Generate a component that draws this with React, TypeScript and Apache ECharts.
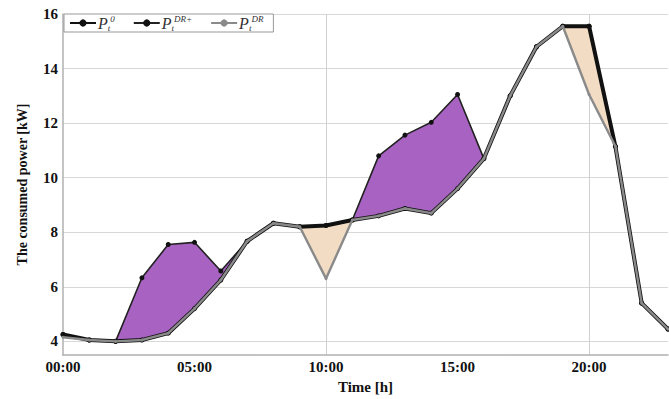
import React, { useEffect, useRef } from "react";
import * as echarts from "echarts";

const hours = Array.from({ length: 24 }, (_, i) => String(i));
const xTickLabels = ["00:00", "05:00", "10:00", "15:00", "20:00"];
// P_t^0 (thick black)
const p0 = [4.25, 4.05, 4.0, 4.05, 4.3, 5.2, 6.25, 7.67, 8.33, 8.2, 8.25, 8.45, 8.6, 8.87, 8.7, 9.6, 10.7, 13.0, 14.8, 15.55, 15.55, 11.15, 5.4, 4.45];
// P_t^{DR+} (thin black with dots)
const pDRplus = [4.25, 4.05, 4.0, 6.33, 7.55, 7.63, 6.58, 7.67, 8.33, 8.2, 8.25, 8.45, 10.8, 11.56, 12.03, 13.05, 10.7, 13.0, 14.8, 15.55, 15.55, 11.15, 5.4, 4.45];
// P_t^{DR} (gray)
const pDR = [4.15, 4.05, 4.0, 4.05, 4.3, 5.2, 6.25, 7.67, 8.33, 8.2, 6.3, 8.45, 8.6, 8.87, 8.7, 9.6, 10.7, 13.0, 14.8, 15.55, 13.05, 11.15, 5.4, 4.45];

const purpleDiff = pDRplus.map((v, i) => Math.max(v - p0[i], 0));
const beigeDiff = p0.map((v, i) => Math.max(v - pDR[i], 0));

const SERIF = "'Liberation Serif', 'DejaVu Serif', serif";

export default function App() {
  const ref = useRef<HTMLDivElement>(null);
  useEffect(() => {
    document.body.style.margin = "0";
    const chart = echarts.init(ref.current!, null, { renderer: "svg" });
    const gridColors: string[] = ["rgba(0,0,0,0)", "#d8d8d8", "rgba(0,0,0,0)", "rgba(0,0,0,0)"];
    const legendRich = {
      i: { fontFamily: SERIF, fontStyle: "italic", fontSize: 16, color: "#333", lineHeight: 18 },
      sub: { fontFamily: SERIF, fontStyle: "italic", fontSize: 9, color: "#333", verticalAlign: "bottom", lineHeight: 18 },
      sup: { fontFamily: SERIF, fontStyle: "italic", fontSize: 9, color: "#333", verticalAlign: "top", lineHeight: 18 },
    };
    const legendNames: Record<string, string> = {
      P0: "{i|P}{sub|t}{sup|0}",
      DRplus: "{i|P}{sub|t}{sup|DR+}",
      DR: "{i|P}{sub|t}{sup|DR}",
    };
    chart.setOption({
      animation: false,
      grid: { left: 63, top: 14, right: 1, bottom: 41 },
      legend: {
        left: 64,
        top: 14,
        data: ["P0", "DRplus", "DR"],
        backgroundColor: "#fff",
        borderColor: "#999",
        borderWidth: 1,
        padding: [0, 10, 0, 5],
        itemGap: 18,
        itemWidth: 26,
        itemHeight: 9,
        formatter: (n: string) => legendNames[n],
        textStyle: { rich: legendRich, padding: [0, 0, 0, -3] },
      },
      xAxis: {
        type: "category",
        data: hours,
        boundaryGap: false,
        axisLine: { lineStyle: { color: "#b0b0b0", width: 1.5 } },
        axisTick: { show: false },
        axisLabel: {
          interval: 4,
          margin: 4,
          fontFamily: SERIF,
          fontWeight: "bold",
          fontSize: 15,
          color: "#111",
          formatter: (v: string, idx: number) => xTickLabels[idx / 5] ?? "",
        },
        splitLine: {
          show: true,
          interval: (i: number) => i === 10 || i === 20,
          lineStyle: { color: "#d0d0d0" },
        },
        name: "Time [h]",
        nameLocation: "middle",
        nameGap: 24,
        nameTextStyle: { fontFamily: SERIF, fontWeight: "bold", fontSize: 15, color: "#111" },
      },
      yAxis: {
        type: "value",
        min: 3.5,
        max: 16,
        interval: 0.5,
        axisLine: { show: true, lineStyle: { color: "#b0b0b0", width: 1.5 } },
        axisTick: { show: false },
        axisLabel: {
          margin: 5,
          fontFamily: SERIF,
          fontWeight: "bold",
          fontSize: 15,
          color: "#111",
          formatter: (v: number) => (v % 2 === 0 ? String(v) : ""),
        },
        splitLine: { show: true, lineStyle: { color: gridColors } },
        name: "The consumed power [kW]",
        nameLocation: "middle",
        nameGap: 34,
        nameTextStyle: { fontFamily: SERIF, fontWeight: "bold", fontSize: 14, color: "#111" },
      },
      series: [
        { name: "purpleBase", type: "line", stack: "purple", data: p0, symbol: "none", lineStyle: { opacity: 0 }, silent: true, z: 1 },
        { name: "purpleFill", type: "line", stack: "purple", data: purpleDiff, symbol: "none", lineStyle: { opacity: 0 }, areaStyle: { color: "#a862c2", opacity: 1 }, silent: true, z: 1 },
        { name: "beigeBase", type: "line", stack: "beige", data: pDR, symbol: "none", lineStyle: { opacity: 0 }, silent: true, z: 1 },
        { name: "beigeFill", type: "line", stack: "beige", data: beigeDiff, symbol: "none", lineStyle: { opacity: 0 }, areaStyle: { color: "#f3dcc4", opacity: 1 }, silent: true, z: 1 },
        {
          name: "DRplus", type: "line", data: pDRplus, z: 3,
          symbol: "circle", symbolSize: 5,
          itemStyle: { color: "#111" }, lineStyle: { color: "#222", width: 1.6 },
        },
        {
          name: "P0", type: "line", data: p0, z: 4,
          symbol: "circle", symbolSize: 5,
          itemStyle: { color: "#111" }, lineStyle: { color: "#111", width: 4 },
        },
        {
          name: "DR", type: "line", data: pDR, z: 5,
          symbol: "circle", symbolSize: 3,
          itemStyle: { color: "#8a8a8a" }, lineStyle: { color: "#8a8a8a", width: 2.4 },
        },
      ],
    });
    return () => chart.dispose();
  }, []);
  return <div ref={ref} style={{ width: 669, height: 399 }} />;
}
